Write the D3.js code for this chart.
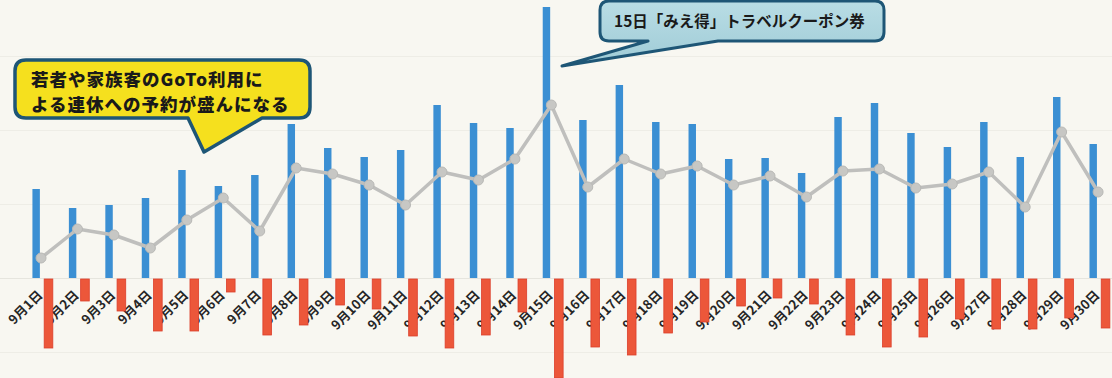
<!DOCTYPE html>
<html><head><meta charset="utf-8">
<script src="https://cdn.jsdelivr.net/npm/d3@7"></script>
<style>
html,body{margin:0;padding:0;background:#f8f7f1;}
svg{display:block;}
</style></head>
<body><svg id="c" width="1112" height="378"></svg>
<script>
const days = ["9月1日","9月2日","9月3日","9月4日","9月5日","9月6日","9月7日","9月8日","9月9日","9月10日",
  "9月11日","9月12日","9月13日","9月14日","9月15日","9月16日","9月17日","9月18日","9月19日","9月20日",
  "9月21日","9月22日","9月23日","9月24日","9月25日","9月26日","9月27日","9月28日","9月29日","9月30日"];
const bookings = [89,70,73,80,108,92,103,154,130,121,128,173,155,150,271,158,193,156,154,119,120,105,161,175,145,131,156,121,181,134];
const cancellations = [-69,-22,-32,-52,-52,-13,-56,-46,-26,-30,-57,-69,-56,-33,-99,-68,-76,-54,-43,-27,-19,-25,-56,-68,-58,-40,-50,-50,-39,-49];
const net = [20,49,43,30,58,80,47,110,104,93,73,106,98,119,173,91,119,104,112,93,102,81,107,109,90,94,106,71,146,86];
const gridValues = [-74,0,74,148,222];
const seriesNames = ["予約","キャンセル"];
const note1 = ["若者や家族客のGoTo利用に","よる連休への予約が盛んになる"];
const note2 = "15日「みえ得」トラベルクーポン券";

const svg = d3.select("#c");
const W = 1112, H = 378;
const font = "'Noto Sans CJK JP','Noto Sans',sans-serif";

const x = d3.scaleBand().domain(days).range([24.1, 1117.6]).padding(0);
const xs = d3.scaleBand().domain(seriesNames).range([-10.5, 10.5]).paddingInner(0.3);
const y = d3.scaleLinear().domain([-100, 275]).range([378, 3]);
const cx = d => x(d) + x.bandwidth() / 2;

// faint gridlines
svg.append("g").selectAll("line").data(gridValues).join("line")
  .attr("x1", 0).attr("x2", W)
  .attr("y1", d => y(d) + 0.5).attr("y2", d => y(d) + 0.5)
  .attr("stroke", d => d === 0 ? "#e6e5de" : "#eeede6").attr("stroke-width", 1.2);

// category labels (drawn under bars)
const xAxis = d3.axisBottom(x).tickSize(0).tickPadding(0);
const ax = svg.append("g").attr("transform", `translate(0,${y(0)})`).call(xAxis);
ax.select(".domain").remove();
ax.selectAll(".tick text")
  .attr("font-family", font).attr("font-size", 13).attr("font-weight", 700)
  .attr("fill", "#262626")
  .attr("text-anchor", "end")
  .attr("dy", 0).attr("y", 0)
  .attr("transform", "translate(1,18) rotate(-45)");

// blue bars
svg.append("g").selectAll("rect").data(bookings).join("rect")
  .attr("x", (v, i) => cx(days[i]) + xs(seriesNames[0]) + 0.6)
  .attr("width", xs.bandwidth() - 1.2)
  .attr("y", v => y(v)).attr("height", v => y(0) - y(v))
  .attr("fill", "#3b8fd3");

// red bars
svg.append("g").selectAll("rect").data(cancellations).join("rect")
  .attr("x", (v, i) => cx(days[i]) + xs(seriesNames[1]))
  .attr("width", xs.bandwidth())
  .attr("y", v => y(0) + 1).attr("height", v => y(v) - y(0))
  .attr("fill", "#ec573a").attr("stroke", "#dc3f2b").attr("stroke-width", 0.8);

// line
const lx = (v, i) => cx(days[i]) - 1.3;
const line = d3.line().x(lx).y(v => y(v));
svg.append("path").datum(net).attr("d", line)
  .attr("fill", "none").attr("stroke", "#bfbfbd").attr("stroke-width", 3.5)
  .attr("stroke-linejoin", "round");
svg.append("g").selectAll("circle").data(net).join("circle")
  .attr("cx", lx).attr("cy", v => y(v)).attr("r", 5)
  .attr("fill", "#c7c7c4").attr("stroke", "#b9b9b6").attr("stroke-width", 1);

// callout shape
function callout(x0, y0, x1, y1, r, ta, tb, tip) {
  return `M${x0 + r},${y0} H${x1 - r} Q${x1},${y0} ${x1},${y0 + r} V${y1 - r} Q${x1},${y1} ${x1 - r},${y1}`
    + ` H${tb} L${tip[0]},${tip[1]} L${ta},${y1} H${x0 + r} Q${x0},${y1} ${x0},${y1 - r} V${y0 + r} Q${x0},${y0} ${x0 + r},${y0} Z`;
}
// callout 1 (yellow)
svg.append("path").attr("d", callout(15, 60, 310, 118, 11, 188, 262, [204, 152]))
  .attr("fill", "#f5e01e").attr("stroke", "#1e5676").attr("stroke-width", 3.5)
  .attr("stroke-linejoin", "round");
const t1 = svg.append("text")
  .attr("font-family", font).attr("font-size", 17.5).attr("font-weight", 900)
  .attr("letter-spacing", 1).attr("fill", "#1a1a1a");
t1.selectAll("tspan").data(note1).join("tspan")
  .attr("x", 31).attr("y", (d, i) => 85.5 + i * 25.6).text(d => d);

// callout 2 (blue)
const defs = svg.append("defs");
const g2 = defs.append("linearGradient").attr("id", "bg2").attr("x1", 0).attr("y1", 0).attr("x2", 0).attr("y2", 1);
g2.append("stop").attr("offset", 0).attr("stop-color", "#b9dde5");
g2.append("stop").attr("offset", 1).attr("stop-color", "#9fcbd6");
svg.append("path").attr("d", callout(600, 1, 884, 41, 9, 648, 718, [562, 66]))
  .attr("fill", "url(#bg2)").attr("stroke", "#1e5676").attr("stroke-width", 3)
  .attr("stroke-linejoin", "round");
svg.append("text").attr("x", 614).attr("y", 27)
  .attr("font-family", font).attr("font-size", 15.5).attr("font-weight", 700)
  .attr("fill", "#1a1a1a").text(note2);
</script></body></html>
